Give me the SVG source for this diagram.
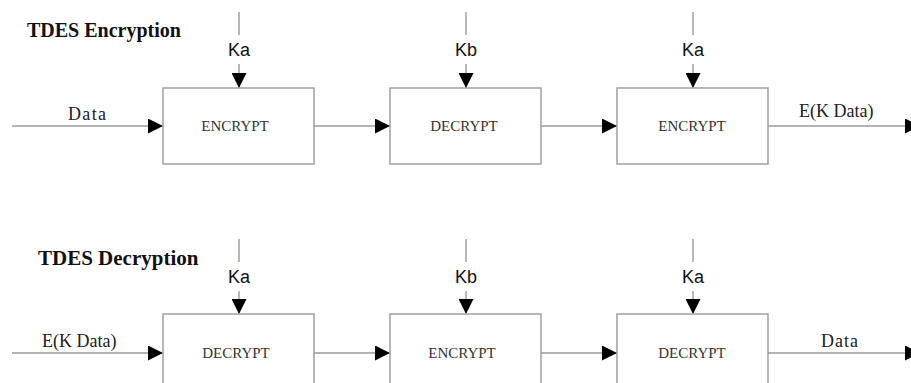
<svg xmlns="http://www.w3.org/2000/svg" width="911" height="383" viewBox="0 0 911 383">
<style>
.box{fill:#fff;stroke:#9a9a9a;stroke-width:1.4}
.ln{stroke:#9a9a9a;stroke-width:1.4;fill:none}
.title{font-family:"Liberation Serif",serif;font-weight:bold;fill:#111}
.lbl{font-family:"Liberation Serif",serif;font-size:18px;fill:#222}
.op{font-family:"Liberation Serif",serif;font-size:15px;fill:#333;text-anchor:middle}
.key{font-family:"Liberation Sans",Arial,sans-serif;font-size:18px;fill:#111;text-anchor:middle}
</style>
<defs>
<marker id="arr" viewBox="0 0 15 15" refX="15" refY="7.5" markerWidth="15" markerHeight="15" markerUnits="userSpaceOnUse" orient="auto">
<path d="M0,0 L15,7.5 L0,15 Z" fill="#000"/>
</marker>
</defs>
<rect width="911" height="383" fill="#fff"/>
<text class="title" x="27" y="37" font-size="20">TDES Encryption</text>
<text class="title" x="38" y="265" font-size="21">TDES Decryption</text>
<g id="connectors">
<line class="ln" x1="12" y1="126" x2="163" y2="126" marker-end="url(#arr)"/>
<line class="ln" x1="314" y1="126" x2="390" y2="126" marker-end="url(#arr)"/>
<line class="ln" x1="541" y1="126" x2="617" y2="126" marker-end="url(#arr)"/>
<line class="ln" x1="768" y1="126" x2="920" y2="126" marker-end="url(#arr)"/>
<line class="ln" x1="239" y1="12" x2="239" y2="35"/>
<line class="ln" x1="239" y1="64" x2="239" y2="88" marker-end="url(#arr)"/>
<line class="ln" x1="466" y1="12" x2="466" y2="35"/>
<line class="ln" x1="466" y1="64" x2="466" y2="88" marker-end="url(#arr)"/>
<line class="ln" x1="693" y1="12" x2="693" y2="35"/>
<line class="ln" x1="693" y1="64" x2="693" y2="88" marker-end="url(#arr)"/>
<line class="ln" x1="12" y1="353" x2="163" y2="353" marker-end="url(#arr)"/>
<line class="ln" x1="314" y1="353" x2="390" y2="353" marker-end="url(#arr)"/>
<line class="ln" x1="541" y1="353" x2="617" y2="353" marker-end="url(#arr)"/>
<line class="ln" x1="768" y1="353" x2="920" y2="353" marker-end="url(#arr)"/>
<line class="ln" x1="239" y1="239" x2="239" y2="262"/>
<line class="ln" x1="239" y1="291" x2="239" y2="314" marker-end="url(#arr)"/>
<line class="ln" x1="466" y1="239" x2="466" y2="262"/>
<line class="ln" x1="466" y1="291" x2="466" y2="314" marker-end="url(#arr)"/>
<line class="ln" x1="693" y1="239" x2="693" y2="262"/>
<line class="ln" x1="693" y1="291" x2="693" y2="314" marker-end="url(#arr)"/>
<text class="lbl" x="68" y="120" textLength="38">Data</text>
<text class="lbl" x="799" y="117">E(K Data)</text>
<text class="lbl" x="42" y="347">E(K Data)</text>
<text class="lbl" x="821" y="347" textLength="37">Data</text>
<text class="key" x="239" y="56">Ka</text>
<text class="key" x="466" y="56">Kb</text>
<text class="key" x="693" y="56">Ka</text>
<text class="key" x="239" y="283">Ka</text>
<text class="key" x="466" y="283">Kb</text>
<text class="key" x="693" y="283">Ka</text>
</g>
<g id="enc1"><rect class="box" x="163" y="88" width="151" height="76"/><text class="op" x="235" y="131">ENCRYPT</text></g>
<g id="dec1"><rect class="box" x="390" y="88" width="151" height="76"/><text class="op" x="464" y="131">DECRYPT</text></g>
<g id="enc2"><rect class="box" x="617" y="88" width="151" height="76"/><text class="op" x="692" y="131">ENCRYPT</text></g>
<g id="dec2"><rect class="box" x="163" y="314" width="151" height="76"/><text class="op" x="236" y="358">DECRYPT</text></g>
<g id="enc3"><rect class="box" x="390" y="314" width="151" height="76"/><text class="op" x="462" y="358">ENCRYPT</text></g>
<g id="dec3"><rect class="box" x="617" y="314" width="151" height="76"/><text class="op" x="692" y="358">DECRYPT</text></g>
</svg>
